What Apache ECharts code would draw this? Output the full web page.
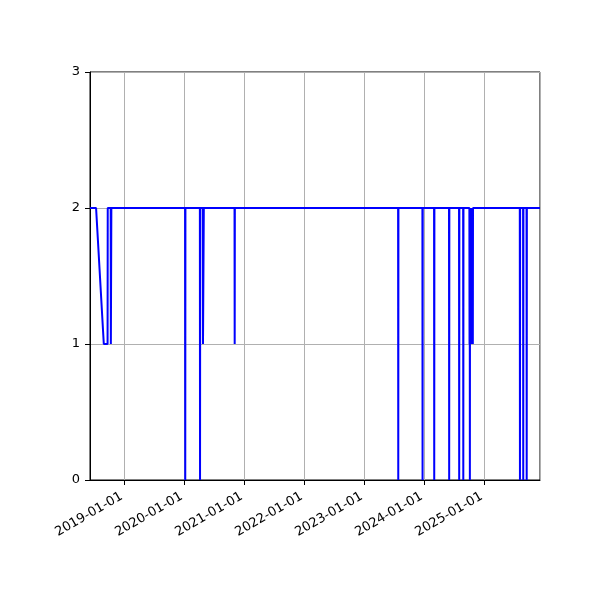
<!DOCTYPE html>
<html>
<head>
<meta charset="utf-8">
<script src="https://cdn.jsdelivr.net/npm/echarts@6/dist/echarts.min.js"></script>
<style>html,body{margin:0;padding:0;background:#fff}#c{width:600px;height:600px}</style>
</head>
<body>
<div id="c"></div>
<script>
const dates = [
  '2018-06-06','2018-07-13','2018-08-29','2018-09-21','2018-09-22','2018-10-10','2018-10-11','2018-10-13','2018-10-14',
  '2020-01-06','2020-01-07','2020-01-08',
  '2020-04-05','2020-04-06','2020-04-07',
  '2020-04-23','2020-04-24','2020-04-28','2020-04-29',
  '2020-11-02','2020-11-03','2020-11-04',
  '2023-07-26','2023-07-27','2023-07-28',
  '2023-12-21','2023-12-22','2023-12-23',
  '2024-03-01','2024-03-02','2024-03-03',
  '2024-05-31','2024-06-01','2024-06-02',
  '2024-07-31','2024-08-01','2024-08-02',
  '2024-08-25','2024-08-26','2024-08-27',
  '2024-10-02','2024-10-03','2024-10-04','2024-10-05','2024-10-06','2024-10-08','2024-10-10',
  '2024-10-12','2024-10-14','2024-10-16','2024-10-18','2024-10-20','2024-10-22','2024-10-23','2024-10-24',
  '2025-08-05','2025-08-06','2025-08-07',
  '2025-08-25','2025-08-26','2025-08-27',
  '2025-09-15','2025-09-16','2025-09-17',
  '2025-12-06'
];
const values = [
  2,2,1,1,2,2,1,1,2,
  2,0,2,
  2,0,2,
  2,1,1,2,
  2,1,2,
  2,0,2,
  2,0,2,
  2,0,2,
  2,0,2,
  2,0,2,
  2,0,2,
  2,1,2,0,2,1,2,
  1,2,1,2,1,2,1,2,
  2,0,2,
  2,0,2,
  2,0,2,
  2
];
const xMin = '2018-06-06';
const xMax = '2025-12-06';
const yTicks = [0, 1, 2, 3];

const chart = echarts.init(document.getElementById('c'));
const pad = n => (n < 10 ? '0' : '') + n;
chart.setOption({
  animation: false,
  textStyle: { fontFamily: 'DejaVu Sans' },
  grid: { left: 90, right: 60, top: 72, bottom: 120, show: true, borderColor: '#000', borderWidth: 1, containLabel: false },
  xAxis: {
    type: 'time',
    min: xMin,
    max: xMax,
    splitNumber: 8,
    axisLine: { lineStyle: { color: '#000', width: 1 } },
    axisTick: { show: true, length: 5, lineStyle: { color: '#000', width: 1 } },
    minorTick: { show: false },
    splitLine: { show: true, lineStyle: { color: '#b0b0b0', width: 1 } },
    axisLabel: {
      rotate: 30, margin: 14, color: '#000', fontSize: 13, fontFamily: 'DejaVu Sans',
      padding: [0, 3, 0, 0],
      hideOverlap: false,
      formatter: function (v) {
        const d = new Date(v);
        return d.getFullYear() + '-' + pad(d.getMonth() + 1) + '-' + pad(d.getDate());
      }
    }
  },
  yAxis: {
    type: 'value',
    min: yTicks[0],
    max: yTicks[yTicks.length - 1],
    interval: 1,
    axisLine: { show: true, lineStyle: { color: '#000', width: 1 } },
    axisTick: { show: true, length: 5, lineStyle: { color: '#000', width: 1 } },
    splitLine: { show: true, lineStyle: { color: '#b0b0b0', width: 1 } },
    axisLabel: { margin: 10, color: '#000', fontSize: 13, fontFamily: 'DejaVu Sans' }
  },
  series: [{
    type: 'line',
    data: dates.map((d, i) => [d, values[i]]),
    showSymbol: false,
    symbol: 'none',
    lineStyle: { color: '#0000ff', width: 2 },
    itemStyle: { color: '#0000ff' },
    clip: true
  }]
});
</script>
</body>
</html>
